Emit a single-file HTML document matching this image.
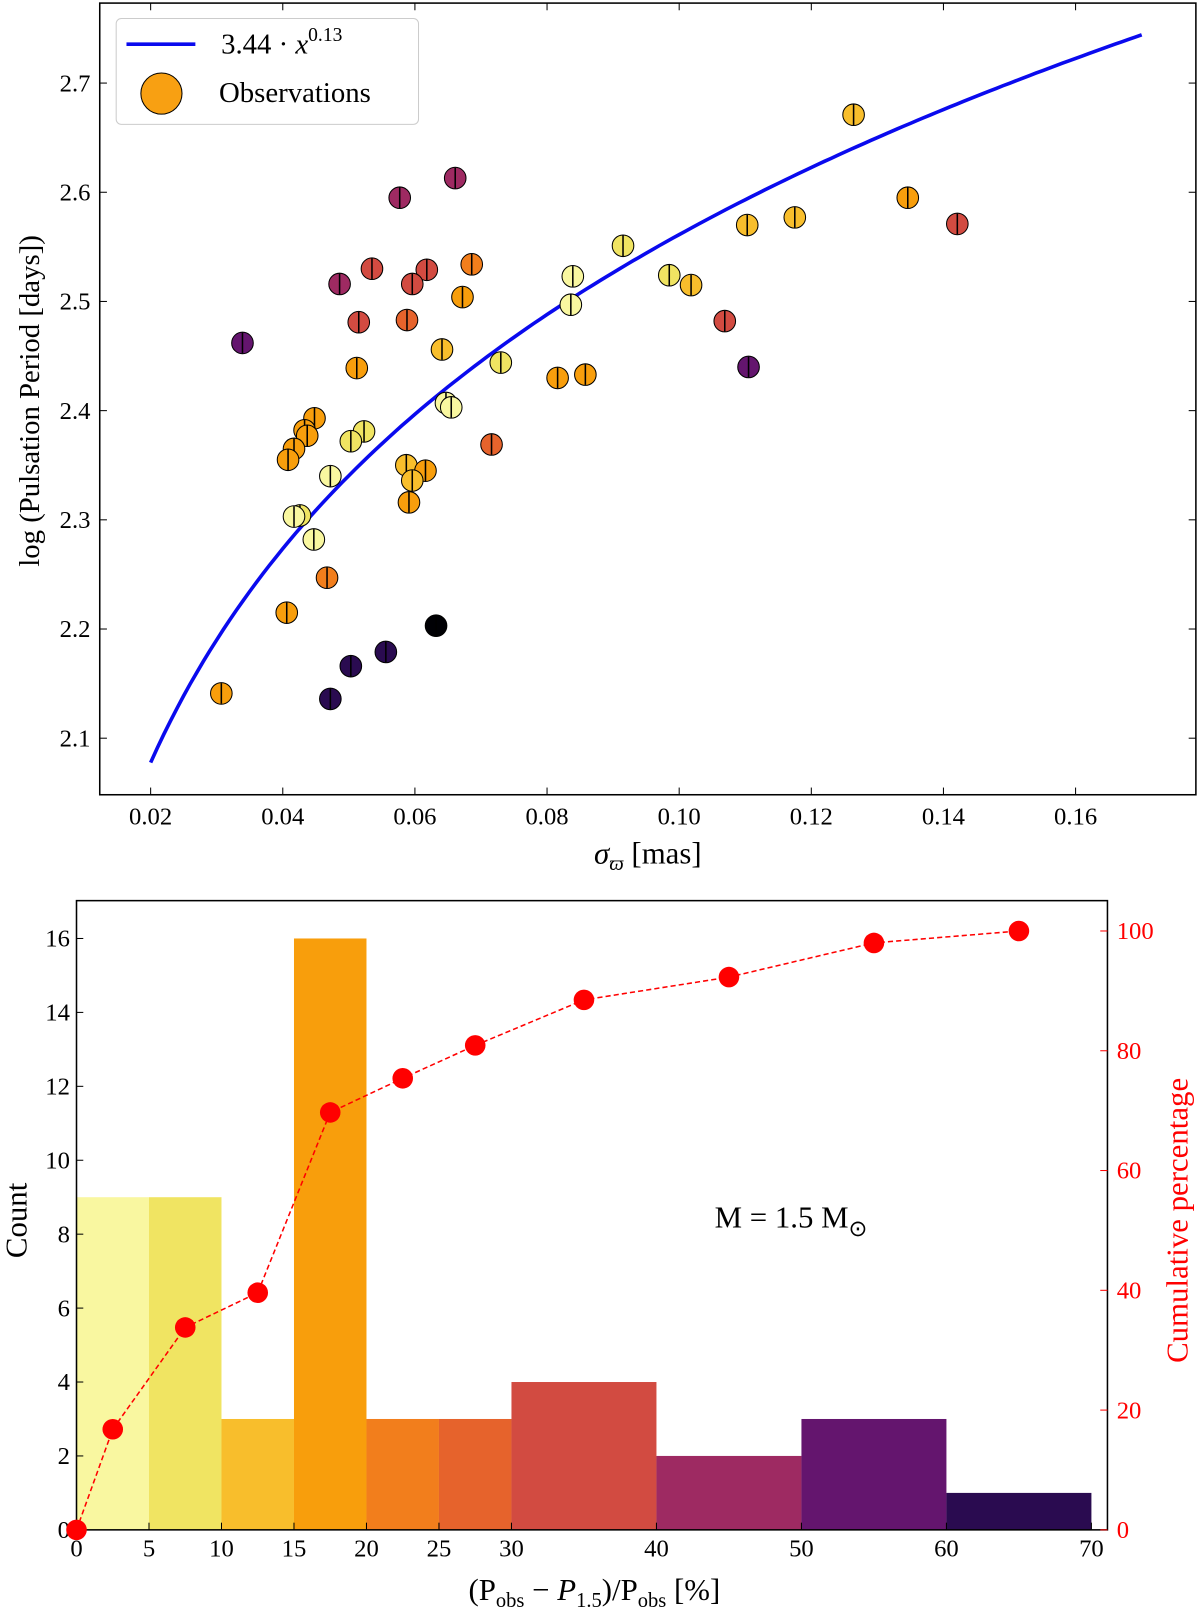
<!DOCTYPE html>
<html><head><meta charset="utf-8"><style>
body{margin:0;background:#fff;}
svg text{font-family:"Liberation Serif",serif;}
</style></head><body>
<svg id="fig" width="1200" height="1608" viewBox="0 0 1167 1564" preserveAspectRatio="none" xmlns="http://www.w3.org/2000/svg">
<g id="topPanel"></g>
<g id="botPanel"></g>
</svg>
<script>
const NS="http://www.w3.org/2000/svg";
// ---- top chart data ----
const sigma=[0.0339,0.0661,0.0577,0.1264,0.1346,0.1421,0.1103,0.1175,0.0915,0.0985,0.1018,0.0839,0.0836,0.1069,0.1105,0.0816,0.0858,0.0730,0.0716,0.0486,0.0535,0.0618,0.0596,0.0686,0.0672,0.0515,0.0588,0.0641,0.0512,0.0647,0.0655,0.0448,0.0433,0.0437,0.0417,0.0408,0.0523,0.0503,0.0587,0.0616,0.0596,0.0591,0.0472,0.0426,0.0417,0.0447,0.0467,0.0406,0.0307,0.0632,0.0556,0.0503,0.0472];
const logP=[2.462,2.613,2.595,2.671,2.595,2.571,2.570,2.577,2.551,2.524,2.515,2.523,2.497,2.482,2.440,2.430,2.433,2.444,2.369,2.516,2.530,2.529,2.516,2.534,2.504,2.481,2.483,2.456,2.439,2.407,2.403,2.393,2.382,2.377,2.365,2.355,2.381,2.372,2.350,2.345,2.336,2.316,2.340,2.304,2.303,2.282,2.247,2.215,2.141,2.203,2.179,2.166,2.136];
const resid=[55,45,45,12,18,32,12,13,8,8,14,3,2,30,55,18,18,8,27,45,38,32,32,23,18,32,28,13,18,4,2,18,18,18,18,18,8,8,12,18,14,18,4,8,2,4,20,18,18,75,65,60,65];
const xTicksTop=[0.02,0.04,0.06,0.08,0.10,0.12,0.14,0.16];
const yTicksTop=[2.1,2.2,2.3,2.4,2.5,2.6,2.7];
const fitA=3.455, fitB=0.13;
// ---- bottom chart data ----
const binEdges=[0,5,10,15,20,25,30,40,50,60,70];
const counts=[9,9,3,16,3,3,4,2,3,1];
const binColors=["#f9f7a0","#f0e462","#f8be2c","#f89e0c","#f27e1c","#e6632c","#d24b41","#9e2a62","#64156e","#2a0b50"];
const cumX=[0,2.5,7.5,12.5,17.5,22.5,27.5,35,45,55,65];
const cumY=[0,16.8,33.8,39.6,69.7,75.4,80.9,88.5,92.3,98,100];
const xTicksBot=[0,5,10,15,20,25,30,40,50,60,70];
const yTicksBot=[0,2,4,6,8,10,12,14,16];
const yTicksRight=[0,20,40,60,80,100];

function el(tag,attrs,parent,text){const e=document.createElementNS(NS,tag);for(const k in attrs)e.setAttribute(k,attrs[k]);if(text!==undefined)e.textContent=text;parent.appendChild(e);return e;}
function colorFor(r){if(r>=70)return "#000004";for(let i=0;i<binEdges.length-1;i++){if(r<binEdges[i+1])return binColors[i];}return binColors[9];}

// ---------- TOP ----------
const topG=document.getElementById('topPanel');
const tx=v=>146.5+(v-0.02)*6425;
const ty=v=>718-(v-2.1)*1062;
const frame=el('rect',{x:97,y:3,width:1066,height:770,fill:'none',stroke:'#000','stroke-width':1.5},topG);


xTicksTop.forEach(v=>{const x=tx(v);
 el('line',{x1:x,x2:x,y1:773,y2:766,stroke:'#000'},topG);el('line',{x1:x,x2:x,y1:3,y2:10,stroke:'#000'},topG);
 const t=el('text',{x:x,y:802,'font-size':24,'text-anchor':'middle'},topG,v.toFixed(2));
 
 });
yTicksTop.forEach(v=>{const y=ty(v);
 el('line',{x1:97,x2:104,y1:y,y2:y,stroke:'#000'},topG);el('line',{x1:1163,x2:1156,y1:y,y2:y,stroke:'#000'},topG);
 const t=el('text',{x:88,y:y+8,'font-size':24,'text-anchor':'end'},topG,v.toFixed(1));
 
 });
let d="";for(let i=0;i<=150;i++){const x=0.02+i*0.15/150;const y=fitA*Math.pow(x,fitB);d+=(i?"L":"M")+tx(x).toFixed(1)+","+ty(y).toFixed(1);}
const curve=el('path',{d:d,fill:'none',stroke:'#0a0aee','stroke-width':3.5},topG);


sigma.forEach((s,i)=>{const g=el('g',{},topG);
 
 
 const cx=tx(s),cy=ty(logP[i]);
 el('circle',{cx:cx,cy:cy,r:10.5,fill:colorFor(resid[i]),stroke:'#000','stroke-width':1},g);
 el('line',{x1:cx,x2:cx,y1:cy-10,y2:cy+10,stroke:'#000','stroke-width':1.5},g);});
const xl=el('text',{x:630,y:840,'font-size':30,'text-anchor':'middle'},topG);


xl.innerHTML='<tspan font-style="italic">σ</tspan><tspan font-style="italic" font-size="20" dy="6">ϖ</tspan><tspan dy="-6"> [mas]</tspan>';
const yl=el('text',{x:0,y:0,'font-size':28,'text-anchor':'middle',transform:'translate(38,390) rotate(-90)'},topG);


yl.innerHTML='log (Pulsation Period [days])';
const lg=el('g',{},topG);


el('rect',{x:113,y:18,width:294,height:103,rx:5,fill:'#fff',stroke:'#ccc'},lg);
el('line',{x1:123,x2:190,y1:43,y2:43,stroke:'#0a0aee','stroke-width':3.5},lg);
const lt=el('text',{x:215,y:52,'font-size':28,'font-family':'DejaVu Sans, sans-serif'},lg);
lt.innerHTML='3.44 · <tspan font-style="italic">x</tspan><tspan font-size="19" dy="-12">0.13</tspan>';


el('circle',{cx:157,cy:91,r:20,fill:'#f8a012',stroke:'#000'},lg);
const lo=el('text',{x:213,y:99,'font-size':28},lg,'Observations');



// ---------- BOTTOM ----------
const botG=document.getElementById('botPanel');
const bx=v=>74.4+v*14.1;
const by=v=>1488-v*35.95;
const byr=v=>1488-v*5.825;
counts.forEach((c,i)=>{const r=el('rect',{x:bx(binEdges[i]),y:by(c),width:bx(binEdges[i+1])-bx(binEdges[i]),height:by(0)-by(c),fill:binColors[i]},botG);
 
 });
const bf=el('rect',{x:74.4,y:876,width:1002.6,height:612,fill:'none',stroke:'#000','stroke-width':1.5},botG);


xTicksBot.forEach(v=>{const x=bx(v);
 el('line',{x1:x,x2:x,y1:1488,y2:1481,stroke:'#000'},botG);
 const t=el('text',{x:x,y:1514,'font-size':24,'text-anchor':'middle'},botG,String(v));
 
 });
yTicksBot.forEach(v=>{const y=by(v);
 el('line',{x1:74.4,x2:81,y1:y,y2:y,stroke:'#000'},botG);
 const t=el('text',{x:68,y:y+8,'font-size':24,'text-anchor':'end'},botG,String(v));
 
 });
yTicksRight.forEach(v=>{const y=byr(v);
 el('line',{x1:1077,x2:1070,y1:y,y2:y,stroke:'#f00'},botG);
 const t=el('text',{x:1086,y:y+8,'font-size':24,fill:'#f00'},botG,String(v));
 
 });
let cd="";cumX.forEach((v,i)=>{cd+=(i?"L":"M")+bx(v).toFixed(1)+","+byr(cumY[i]).toFixed(1);});
const cl=el('path',{d:cd,fill:'none',stroke:'#f00','stroke-width':1.5,'stroke-dasharray':'5,3'},botG);


cumX.forEach((v,i)=>{const c=el('circle',{cx:bx(v),cy:byr(cumY[i]),r:10,fill:'#f00'},botG);
 
 });
const bxl=el('text',{x:578,y:1556,'font-size':30,'text-anchor':'middle'},botG);


bxl.innerHTML='(P<tspan font-size="20" dy="7">obs</tspan><tspan dy="-7"> − </tspan><tspan font-style="italic">P</tspan><tspan font-size="20" dy="7">1.5</tspan><tspan dy="-7">)/P</tspan><tspan font-size="20" dy="7">obs</tspan><tspan dy="-7"> [%]</tspan>';
const byl=el('text',{x:0,y:0,'font-size':30,'text-anchor':'middle',transform:'translate(26,1187) rotate(-90)'},botG,'Count');


const ryl=el('text',{x:0,y:0,'font-size':30,'text-anchor':'middle',fill:'#f00',transform:'translate(1155,1187) rotate(-90)'},botG,'Cumulative percentage');


const ann=el('text',{x:695,y:1194,'font-size':30},botG);


ann.innerHTML='M = 1.5 M<tspan font-size="22" dy="8">⊙</tspan>';
</script>
</body></html>
